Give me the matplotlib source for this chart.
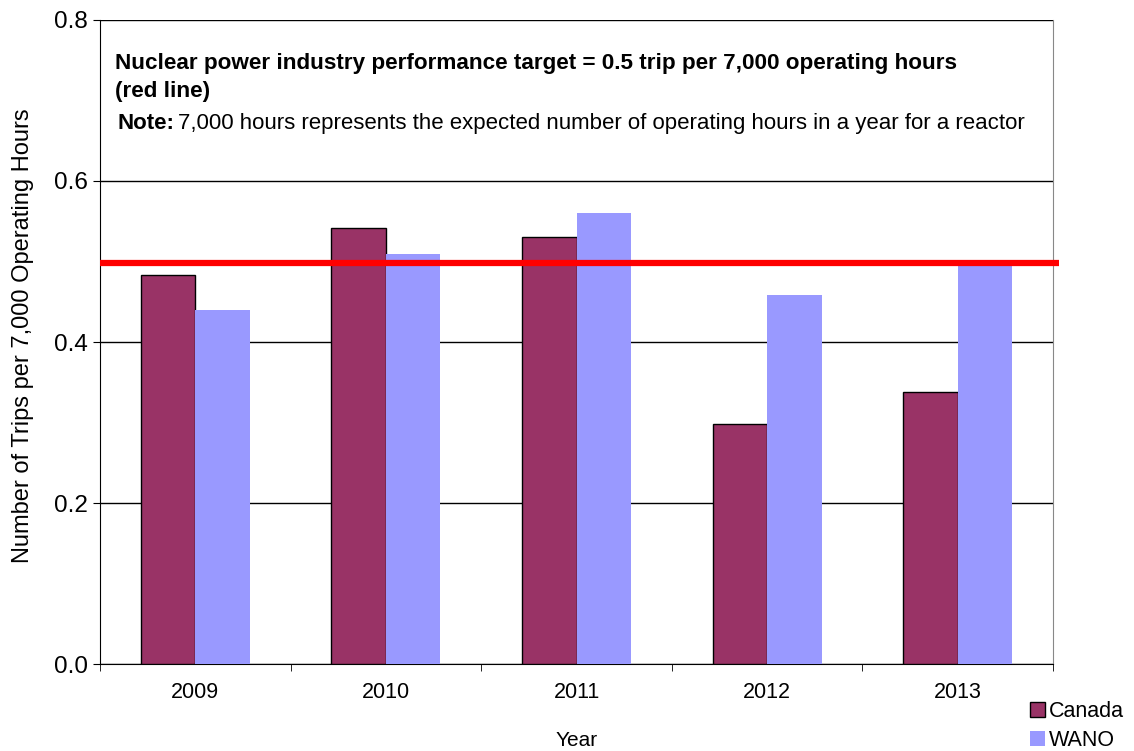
import matplotlib
matplotlib.use("Agg")
import matplotlib.pyplot as plt
import numpy as np

plt.rcParams['font.family'] = ['Liberation Sans', 'DejaVu Sans']

years = ['2009', '2010', '2011', '2012', '2013']
canada = [0.483, 0.541, 0.530, 0.298, 0.338]
wano = [0.440, 0.509, 0.560, 0.458, 0.500]
target = 0.498

fig = plt.figure(figsize=(11.34, 7.51), dpi=100)
ax = fig.add_axes([0.0882, 0.1158, 0.8404, 0.8576])

x = np.arange(len(years))
w = 0.286
b1 = ax.bar(x - w/2, canada, w, color='#993366', edgecolor='black', linewidth=1, label='Canada', zorder=3)
b2 = ax.bar(x + w/2, wano, w, color='#9999FF', edgecolor='none', label='WANO', zorder=3)

# target line
ax.plot([-0.5, 4.53], [target, target], color='#FF0000', lw=4.5, zorder=4, clip_on=False, solid_capstyle='butt')

ax.set_xlim(-0.5, 4.5)
ax.set_ylim(0, 0.8)
ax.set_yticks([0.0, 0.2, 0.4, 0.6, 0.8])
ax.set_yticklabels(['0.0', '0.2', '0.4', '0.6', '0.8'], fontsize=17.5)
ax.set_xticks(x)
ax.set_xticklabels(years, fontsize=15.5)
ax.set_xticks(np.arange(-0.5, 5, 1), minor=True)
ax.tick_params(axis='x', which='major', length=0, pad=13)
ax.tick_params(axis='x', which='minor', length=5, direction='out')
ax.tick_params(axis='y', length=5, direction='out', pad=4)

ax.yaxis.grid(True, color='black', lw=1, zorder=0)
ax.set_axisbelow(True)
ax.spines['top'].set_visible(False)
ax.spines['right'].set_color('#888888')
ax.spines['left'].set_color('black')
ax.spines['bottom'].set_color('black')

ax.set_ylabel('Number of Trips per 7,000 Operating Hours', fontsize=17)
ax.yaxis.set_label_coords(-0.069, 0.51)
ax.set_xlabel('Year', fontsize=15, labelpad=20)

ax.text(0.016, 0.948, 'Nuclear power industry performance target = 0.5 trip per 7,000 operating hours\n(red line)',
        transform=ax.transAxes, fontsize=16.2, fontweight='bold', va='top', linespacing=1.42)
t = ax.text(0.018, 0.839, 'Note:', transform=ax.transAxes, fontsize=16, fontweight='bold', va='center')
fig.canvas.draw()
bb = t.get_window_extent().transformed(ax.transAxes.inverted())
ax.text(bb.x1 + 0.004, 0.839, '7,000 hours represents the expected number of operating hours in a year for a reactor',
        transform=ax.transAxes, fontsize=16, va='center')

fig.legend(handles=[b1, b2], loc='upper left', bbox_to_anchor=(1019/1134, 1 - 690/751),
           frameon=False, fontsize=15.5, handlelength=0.7, handleheight=0.7,
           handletextpad=0.2, labelspacing=0.4, borderpad=0)

fig.savefig('out.png', dpi=100)
